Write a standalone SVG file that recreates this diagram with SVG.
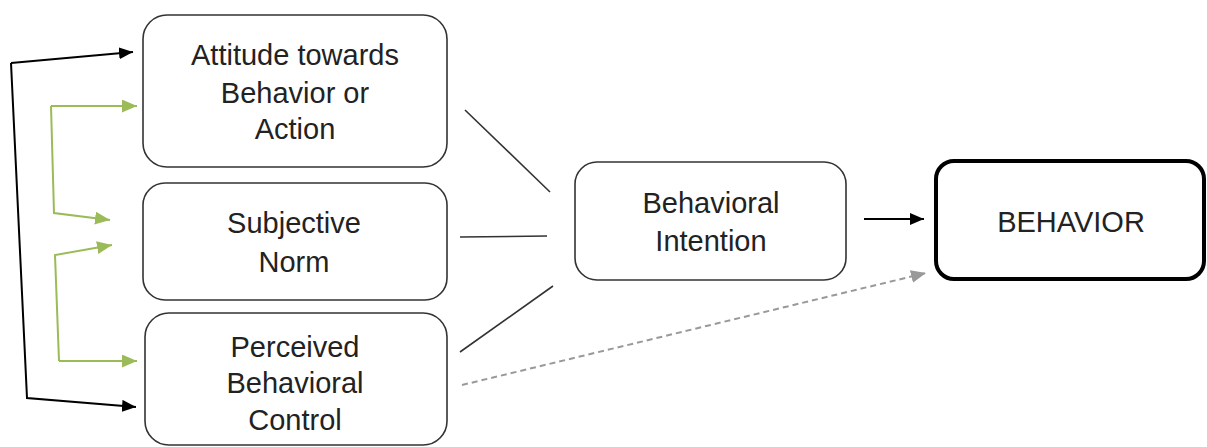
<svg xmlns="http://www.w3.org/2000/svg" width="1207" height="447" viewBox="0 0 1207 447">
<style>
.box{fill:#fff;stroke:#333;stroke-width:1.6}
.big{fill:#fff;stroke:#000;stroke-width:4}
.t{font-family:"Liberation Sans",Arial,sans-serif;font-size:29px;fill:#222;text-anchor:middle}
.ln{fill:none;stroke:#333;stroke-width:1.6}
.blk{fill:none;stroke:#000;stroke-width:2}
.grn{fill:none;stroke:#9bbb59;stroke-width:2}
.dash{fill:none;stroke:#999;stroke-width:2;stroke-dasharray:6 4}
</style>
<defs>
<marker id="ab" markerWidth="14" markerHeight="12" refX="14" refY="6" orient="auto" markerUnits="userSpaceOnUse"><path d="M0,0 L14,6 L0,12 z" fill="#000"/></marker>
<marker id="ag" markerWidth="15" markerHeight="13" refX="15" refY="6.5" orient="auto" markerUnits="userSpaceOnUse"><path d="M0,0 L15,6.5 L0,13 z" fill="#9bbb59"/></marker>
<marker id="ad" markerWidth="15" markerHeight="13" refX="15" refY="6.5" orient="auto" markerUnits="userSpaceOnUse"><path d="M0,0 L15,6.5 L0,13 z" fill="#999"/></marker>
</defs>
<rect width="1207" height="447" fill="#fff"/>
<g id="connectors">
<polyline class="blk" points="11,63 27,398 136,407" marker-end="url(#ab)"/>
<polyline class="blk" points="11,63 133,52" marker-end="url(#ab)"/>
<polyline class="grn" points="51,106 137,106" marker-end="url(#ag)"/>
<polyline class="grn" points="51,106 54,213 110,220" marker-end="url(#ag)"/>
<polyline class="grn" points="59,361 55,255 112,245" marker-end="url(#ag)"/>
<polyline class="grn" points="59,361 137,361" marker-end="url(#ag)"/>
<line class="ln" x1="465" y1="110" x2="550" y2="192"/>
<line class="ln" x1="460" y1="237" x2="547" y2="236"/>
<line class="ln" x1="460" y1="352" x2="553" y2="286"/>
<line class="blk" x1="864" y1="219" x2="924" y2="219" marker-end="url(#ab)"/>
<line class="dash" x1="462" y1="385" x2="926" y2="273" marker-end="url(#ad)"/>
</g>
<g id="attitude">
<rect class="box" x="143" y="15" width="304" height="152" rx="24"/>
<text class="t" x="295" y="65">Attitude towards</text>
<text class="t" x="295" y="103">Behavior or</text>
<text class="t" x="295" y="139">Action</text>
</g>
<g id="subjective">
<rect class="box" x="143" y="183" width="304" height="117" rx="22"/>
<text class="t" x="294" y="233">Subjective</text>
<text class="t" x="294" y="272">Norm</text>
</g>
<g id="perceived">
<rect class="box" x="145" y="313" width="302" height="132" rx="24"/>
<text class="t" x="295" y="357">Perceived</text>
<text class="t" x="295" y="393">Behavioral</text>
<text class="t" x="295" y="430">Control</text>
</g>
<g id="intention">
<rect class="box" x="575" y="162" width="271" height="118" rx="22"/>
<text class="t" x="711" y="213">Behavioral</text>
<text class="t" x="711" y="251">Intention</text>
</g>
<g id="behavior">
<rect class="big" x="936" y="161" width="268" height="118" rx="18"/>
<text class="t" x="1071" y="232">BEHAVIOR</text>
</g>
</svg>
